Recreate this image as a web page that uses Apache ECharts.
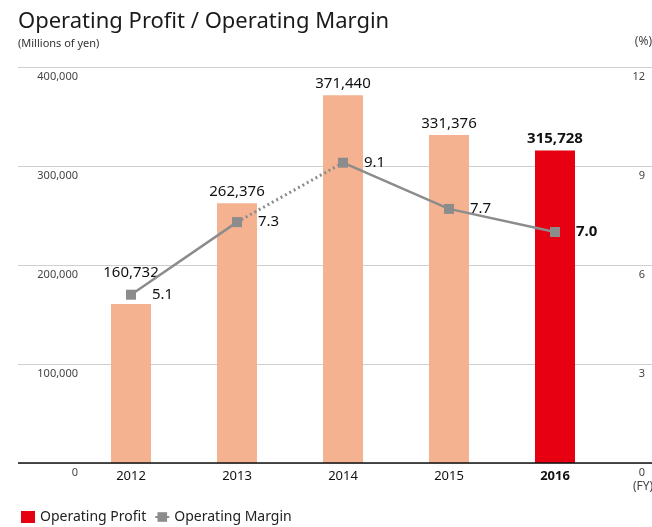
<!DOCTYPE html>
<html>
<head>
<meta charset="utf-8">
<script src="https://cdn.jsdelivr.net/npm/echarts@6/dist/echarts.min.js"></script>
<style>
  html, body { margin: 0; padding: 0; background: #fff; }
  #chart { width: 652px; height: 527px; }
</style>
</head>
<body>
<div id="chart"></div>
<script>
const years = ["2012", "2013", "2014", "2015", "2016"];
const operatingProfit = [160732, 262376, 371440, 331376, 315728];
const operatingMargin = [5.1, 7.3, 9.1, 7.7, 7.0];
const profitTicks = [0, 100000, 200000, 300000, 400000];
const marginTicks = [0, 3, 6, 9, 12];

const FONT = "Noto Sans";
const salmon = "#F5B291";
const red = "#E60012";
const grey = "#8C8C8C";
const last = years.length - 1;

// solid segments 2012-2013 and 2014-2016, dotted 2013-2014
const solidA = operatingMargin.map((v, i) => (i <= 1 ? v : "-"));
const solidB = operatingMargin.map((v, i) => (i >= 2 ? v : "-"));
const dotted = operatingMargin.map((v, i) => (i === 1 || i === 2 ? v : "-"));

const chart = echarts.init(document.getElementById("chart"));

const marginLabel = {
  show: true,
  position: "right",
  distance: 16,
  fontFamily: FONT,
  fontSize: 15,
  color: "#111",
  formatter: (p) => p.value.toFixed(1)
};

chart.setOption({
  animation: false,
  textStyle: { fontFamily: FONT },
  title: {
    text: "Operating Profit / Operating Margin",
    subtext: "(Millions of yen)",
    left: 13,
    top: 6,
    itemGap: 5,
    textStyle: { fontFamily: FONT, fontSize: 22, fontWeight: "normal", color: "#1a1a1a" },
    subtextStyle: { fontFamily: FONT, fontSize: 11, color: "#333" }
  },
  legend: {
    left: 16,
    top: 505,
    itemGap: 8,
    itemWidth: 14,
    itemHeight: 12,
    textStyle: { fontFamily: FONT, fontSize: 14, color: "#222" },
    data: [
      { name: "Operating Profit", icon: "rect", itemStyle: { color: red } },
      { name: "Operating Margin" }
    ]
  },
  graphic: [
    { type: "text", right: 0, top: 36, style: { text: "(%)", font: "12px " + FONT, fill: "#444" } },
    { type: "text", left: 633, top: 481, style: { text: "(FY)", font: "12px " + FONT, fill: "#444" } }
  ],
  grid: [
    { left: 18, right: 0, top: 67, bottom: 64 },
    { left: 78, right: 44, top: 67, bottom: 64 }
  ],
  xAxis: [
    {
      gridIndex: 0,
      type: "value",
      min: 0,
      max: 1,
      axisLine: { show: false },
      axisTick: { show: false },
      axisLabel: { show: false },
      splitLine: { show: false }
    },
    {
      gridIndex: 1,
      type: "category",
      data: years,
      axisLine: { show: false },
      axisTick: { show: false },
      axisLabel: {
        margin: 7,
        fontSize: 13,
        color: "#111",
        formatter: (v, i) => (i === last ? "{b|" + v + "}" : v),
        rich: { b: { fontWeight: "bold", fontSize: 13, color: "#111", fontFamily: FONT } }
      }
    }
  ],
  yAxis: [
    {
      gridIndex: 0,
      type: "value",
      min: profitTicks[0],
      max: profitTicks[profitTicks.length - 1],
      interval: profitTicks[1] - profitTicks[0],
      axisLine: { show: false },
      axisTick: { show: false },
      splitLine: { lineStyle: { color: "#cfcfcf", width: 1 } },
      axisLabel: {
        inside: true,
        margin: 60,
        align: "right",
        verticalAlign: "top",
        padding: [4, 0, 0, 0],
        fontSize: 11,
        color: "#444",
        formatter: (v) => v.toLocaleString("en-US")
      }
    },
    {
      gridIndex: 0,
      type: "value",
      position: "right",
      min: marginTicks[0],
      max: marginTicks[marginTicks.length - 1],
      interval: marginTicks[1] - marginTicks[0],
      axisLine: { show: false },
      axisTick: { show: false },
      splitLine: { show: false },
      axisLabel: {
        inside: true,
        margin: 7,
        align: "right",
        verticalAlign: "top",
        padding: [4, 0, 0, 0],
        fontSize: 11,
        color: "#444"
      }
    },
    {
      gridIndex: 1,
      type: "value",
      min: profitTicks[0],
      max: profitTicks[profitTicks.length - 1],
      show: false
    },
    {
      gridIndex: 1,
      type: "value",
      min: marginTicks[0],
      max: marginTicks[marginTicks.length - 1],
      show: false
    }
  ],
  series: [
    {
      name: "Operating Profit",
      type: "bar",
      xAxisIndex: 1,
      yAxisIndex: 2,
      barWidth: 40,
      z: 2,
      data: operatingProfit.map((v, i) => ({
        value: v,
        itemStyle: { color: i === last ? red : salmon },
        label: i === 0
          ? { offset: [0, -20] }
          : i === last ? { fontWeight: "bold" } : {}
      })),
      label: {
        show: true,
        position: "top",
        distance: 4,
        fontFamily: FONT,
        fontSize: 15,
        color: "#111",
        formatter: (p) => p.value.toLocaleString("en-US")
      }
    },
    {
      // axis base line across the whole plot
      type: "line",
      xAxisIndex: 0,
      yAxisIndex: 0,
      silent: true,
      symbol: "none",
      data: [],
      markLine: {
        silent: true,
        symbol: "none",
        label: { show: false },
        lineStyle: { color: "#111", width: 1.5, type: "solid" },
        data: [{ yAxis: 0 }]
      }
    },
    {
      name: "Operating Margin",
      type: "line",
      xAxisIndex: 1,
      yAxisIndex: 3,
      z: 5,
      data: solidA,
      symbol: "rect",
      symbolSize: 10,
      lineStyle: { color: grey, width: 2.5 },
      itemStyle: { color: grey },
      label: marginLabel
    },
    {
      name: "Operating Margin",
      type: "line",
      xAxisIndex: 1,
      yAxisIndex: 3,
      z: 5,
      data: solidB.map((v, i) => (i === last ? { value: v, label: { fontWeight: "bold" } } : v)),
      symbol: "rect",
      symbolSize: 10,
      lineStyle: { color: grey, width: 2.5 },
      itemStyle: { color: grey },
      label: marginLabel
    },
    {
      name: "Operating Margin",
      type: "line",
      xAxisIndex: 1,
      yAxisIndex: 3,
      z: 4,
      data: dotted,
      symbol: "none",
      lineStyle: { color: grey, width: 3, type: [2, 3] },
      itemStyle: { color: grey }
    }
  ]
});
</script>
</body>
</html>
